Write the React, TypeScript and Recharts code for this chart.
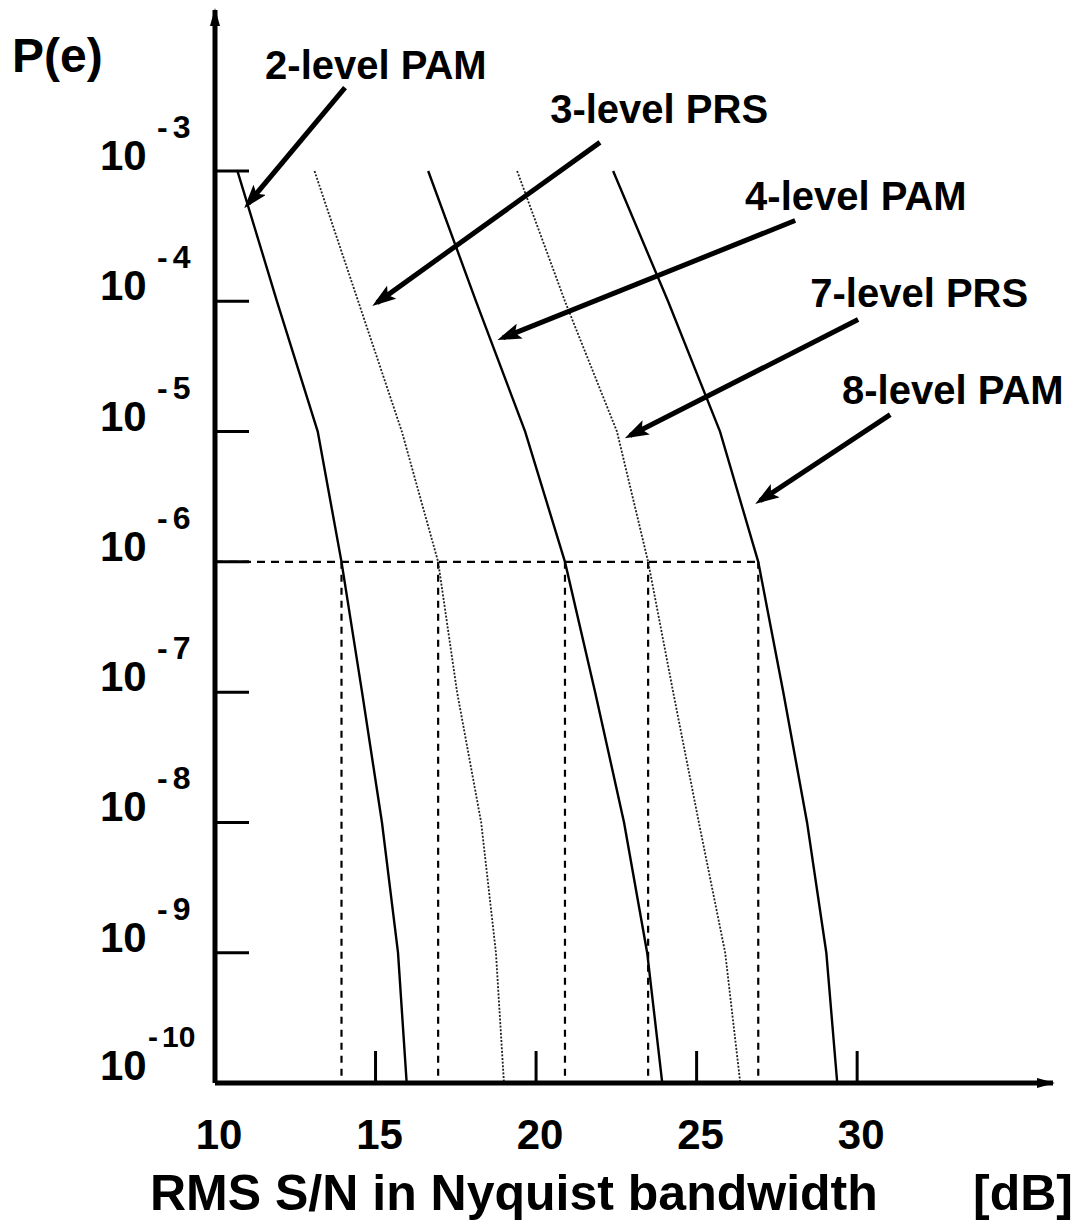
import { LineChart, Line, XAxis, YAxis, ReferenceLine, ReferenceDot } from "recharts";

const FONT = "'Liberation Sans', Arial, Helvetica, sans-serif";
const WIDTH = 1077;
const HEIGHT = 1223;

// P(e) levels, one per decade
const PE_LEVELS = [1e-3, 1e-4, 1e-5, 1e-6, 1e-7, 1e-8, 1e-9, 1e-10];

// S/N [dB] where each curve crosses the levels above
const SNR_PAM2 = [10.7, 11.93, 13.2, 13.94, 14.58, 15.2, 15.7, 15.97];
const SNR_PRS3 = [13.1, 14.46, 15.82, 16.95, 17.54, 18.29, 18.75, 19.0];
const SNR_PAM4 = [16.64, 18.13, 19.66, 20.9, 21.84, 22.74, 23.46, 23.93];
const SNR_PRS7 = [19.41, 20.9, 22.52, 23.49, 24.27, 25.07, 25.89, 26.36];
const SNR_PAM8 = [22.4, 24.11, 25.73, 26.92, 27.7, 28.44, 29.04, 29.38];

const SERIES_NAMES = ["2-level PAM", "3-level PRS", "4-level PAM", "7-level PRS", "8-level PAM"];
const SERIES_SNR = [SNR_PAM2, SNR_PRS3, SNR_PAM4, SNR_PRS7, SNR_PAM8];
const SERIES_DOTTED = [false, true, false, true, false];

// annotation text + arrows, in chart units (dB, log10 P(e))
const LABEL_SNR = [11.56, 20.44, 26.51, 28.54, 29.53];
const LABEL_EXP = [-2.29, -2.63, -3.3, -4.04, -4.79];
const ARROW_FROM_SNR = [14.05, 21.99, 28.07, 30.03, 31.03];
const ARROW_FROM_EXP = [-2.36, -2.78, -3.38, -4.14, -4.87];
const ARROW_TO_SNR = [11.03, 15.05, 18.97, 22.93, 26.98];
const ARROW_TO_EXP = [-3.25, -4.01, -4.28, -5.03, -5.53];

const X_TICKS = [10, 15, 20, 25, 30];
const X_DOMAIN = [10, 36.1];
const PE_DOMAIN = [1e-10, Math.pow(10, -1.764)];
const GUIDE_PE = 1e-6;
const GUIDE_IDX = PE_LEVELS.indexOf(GUIDE_PE);

const PLOT_LEFT = 215;
const PLOT_TOP = 10;
const X_AXIS_HEIGHT = 140;

function PeTick({ x, y, payload }: any) {
  const exp = Math.round(Math.log10(payload.value));
  const digits = String(-exp);
  const twoDigits = digits.length > 1;
  return (
    <g>
      <line x1={x} x2={x + 34} y1={y} y2={y} stroke="#000" strokeWidth={3} />
      <text x={x - 115} y={twoDigits ? y - 3 : y - 1} fontSize={42} fontWeight="bold" fontFamily={FONT} fill="#000">
        10
      </text>
      {/* exponent: minus sign with a small gap before the digits */}
      <text
        x={x - (twoDigits ? 67 : 58)}
        y={y - (twoDigits ? 36 : 33)}
        fontSize={twoDigits ? 30 : 32}
        fontWeight="bold"
        fontFamily={FONT}
        fill="#000"
      >
        -
        <tspan dx={twoDigits ? 4 : 5}>{digits}</tspan>
      </text>
    </g>
  );
}

function SnrTick({ x, y, payload }: any) {
  return (
    <g>
      <line x1={x} x2={x} y1={y} y2={y - 32} stroke="#000" strokeWidth={3} />
      <text
        x={x + 4}
        y={y + 66}
        textAnchor="middle"
        fontSize={42}
        fontWeight="bold"
        fontFamily={FONT}
        fill="#000"
      >
        {payload.value}
      </text>
    </g>
  );
}

function XTitle() {
  const y = HEIGHT - X_AXIS_HEIGHT + 127;
  return (
    <g>
      <text x={PLOT_LEFT - 65} y={y} fontSize={50} fontWeight="bold" fontFamily={FONT} fill="#000">
        RMS S/N in Nyquist bandwidth
      </text>
      <text x={WIDTH - 4} y={y} textAnchor="end" fontSize={50} fontWeight="bold" fontFamily={FONT} fill="#000">
        [dB]
      </text>
    </g>
  );
}

function YTitle() {
  return (
    <text x={12} y={PLOT_TOP + 62} fontSize={48} fontWeight="bold" fontFamily={FONT} fill="#000">
      P(e)
    </text>
  );
}

const arrowShape = (p: any) => (
  <line
    x1={p.x1}
    y1={p.y1}
    x2={p.x2}
    y2={p.y2}
    stroke="#000"
    strokeWidth={5}
    markerEnd="url(#noteHead)"
  />
);

export default function App() {
  return (
    <div style={{ position: "absolute", left: 0, top: 0, background: "#fff" }}>
      <svg width={0} height={0} style={{ position: "absolute" }}>
        <defs>
          <marker
            id="axisHead"
            viewBox="0 0 18 10"
            refX={16}
            refY={5}
            markerWidth={18}
            markerHeight={10}
            markerUnits="userSpaceOnUse"
            orient="auto-start-reverse"
          >
            <path d="M0,0 L18,5 L0,10 z" fill="#000" />
          </marker>
          <marker
            id="noteHead"
            viewBox="0 0 24 16"
            refX={18}
            refY={8}
            markerWidth={24}
            markerHeight={16}
            markerUnits="userSpaceOnUse"
            orient="auto"
          >
            <path d="M0,0 L24,8 L0,16 L5,8 z" fill="#000" />
          </marker>
        </defs>
      </svg>
      <LineChart
        width={WIDTH}
        height={HEIGHT}
        margin={{ top: PLOT_TOP, right: 24, bottom: 0, left: 0 }}
      >
        <XAxis
          dataKey="snr"
          type="number"
          domain={X_DOMAIN}
          allowDataOverflow
          ticks={X_TICKS}
          interval={0}
          height={X_AXIS_HEIGHT}
          tickLine={false}
          tickSize={0}
          tickMargin={0}
          tick={<SnrTick />}
          axisLine={{ stroke: "#000", strokeWidth: 5, markerEnd: "url(#axisHead)" }}
          label={<XTitle />}
        />
        <YAxis
          dataKey="pe"
          type="number"
          scale="log"
          domain={PE_DOMAIN}
          allowDataOverflow
          ticks={PE_LEVELS}
          interval={0}
          width={PLOT_LEFT}
          tickLine={false}
          tickSize={0}
          tickMargin={0}
          tick={<PeTick />}
          axisLine={{ stroke: "#000", strokeWidth: 5, markerStart: "url(#axisHead)" }}
          label={<YTitle />}
        />

        {/* dashed guides at P(e) = 1e-6 */}
        <ReferenceLine
          segment={[
            { x: X_DOMAIN[0], y: GUIDE_PE },
            { x: SNR_PAM8[GUIDE_IDX], y: GUIDE_PE },
          ]}
          stroke="#000"
          strokeWidth={2.2}
          strokeDasharray="8 6"
        />
        {SERIES_SNR.map((snr, i) => (
          <ReferenceLine
            key={`guide-${i}`}
            segment={[
              { x: snr[GUIDE_IDX], y: GUIDE_PE },
              { x: snr[GUIDE_IDX], y: PE_DOMAIN[0] },
            ]}
            stroke="#000"
            strokeWidth={2.2}
            strokeDasharray="7 6"
          />
        ))}

        {SERIES_NAMES.map((name, i) => (
          <Line
            key={name}
            name={name}
            data={PE_LEVELS.map((pe, j) => ({ snr: SERIES_SNR[i][j], pe }))}
            dataKey="pe"
            type="linear"
            stroke={SERIES_DOTTED[i] ? "#222" : "#000"}
            strokeWidth={SERIES_DOTTED[i] ? 1.8 : 2.4}
            strokeDasharray={SERIES_DOTTED[i] ? "2 1.6" : undefined}
            dot={false}
            isAnimationActive={false}
          />
        ))}

        {SERIES_NAMES.map((name, i) => (
          <ReferenceLine
            key={`arrow-${name}`}
            segment={[
              { x: ARROW_FROM_SNR[i], y: Math.pow(10, ARROW_FROM_EXP[i]) },
              { x: ARROW_TO_SNR[i], y: Math.pow(10, ARROW_TO_EXP[i]) },
            ]}
            shape={arrowShape}
          />
        ))}
        {SERIES_NAMES.map((name, i) => (
          <ReferenceDot
            key={`label-${name}`}
            x={LABEL_SNR[i]}
            y={Math.pow(10, LABEL_EXP[i])}
            r={0}
            shape={(p: any) => (
              <text x={p.cx} y={p.cy} fontSize={40} fontWeight="bold" fontFamily={FONT} fill="#000">
                {name}
              </text>
            )}
          />
        ))}
      </LineChart>
    </div>
  );
}
